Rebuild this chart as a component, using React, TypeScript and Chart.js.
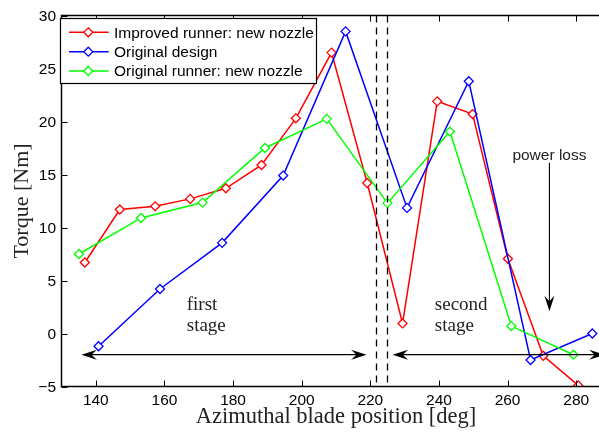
import React, { useEffect, useRef } from "react";
import { Chart, registerables } from "chart.js";

Chart.register(...registerables);

// ---- data ----
const improvedX = [136.8, 147.0, 157.3, 167.5, 177.9, 188.3, 198.3, 208.7, 219.1, 229.4, 239.5, 249.8, 260.1, 270.4, 280.6];
const improvedY = [6.7, 11.7, 12.0, 12.7, 13.7, 15.9, 20.3, 26.5, 14.2, 0.95, 21.9, 20.7, 7.05, -2.1, -4.9];
const originalX = [140.8, 158.7, 176.8, 194.6, 212.8, 230.7, 248.7, 266.7, 284.7];
const originalY = [-1.2, 4.2, 8.55, 14.9, 28.5, 11.85, 23.8, -2.5, 0.0];
const runnerX = [135.1, 153.2, 171.1, 189.3, 207.3, 225.0, 243.2, 261.1, 279.2];
const runnerY = [7.5, 10.9, 12.35, 17.5, 20.25, 12.3, 19.05, 0.7, -2.0];

const seriesNames = ["Improved runner: new nozzle", "Original design", "Original runner: new nozzle"];
const xTicks = [140, 160, 180, 200, 220, 240, 260, 280];
const yTicks = [-5, 0, 5, 10, 15, 20, 25, 30];
const xRange = [130, 290];
const yRange = [-5, 30];
const dividers = [221.8, 224.8];
const stageArrowY = -2;
const firstStageArrow = [135.8, 218.9];
const secondStageArrow = [226.5, 288.3];
const powerLossArrowX = 272.2;
const powerLossArrowY = [16.1, 2.1];
const stageLabels = [
  { lines: ["first", "stage"], x: 166.5, y: 0.24 },
  { lines: ["second", "stage"], x: 238.8, y: 0.24 },
];
const powerLossLabel = { text: "power loss", x: 272.2, y: 16.4 };

const colors = ["#ff0000", "#0000ff", "#00ff00"];
const SANS = "'Liberation Sans', Arial, sans-serif";
const SERIF = "'Liberation Serif', 'Times New Roman', serif";

const toPoints = (xs: number[], ys: number[]) => xs.map((x, i) => ({ x, y: ys[i] }));
const fmt = (v: number) => String(v).replace("-", "\u2212");

function arrowHead(ctx: CanvasRenderingContext2D, tx: number, ty: number, dx: number, dy: number) {
  const L = 15.5, W = 5, N = 10;
  const px = -dy, py = dx;
  ctx.beginPath();
  ctx.moveTo(tx, ty);
  ctx.lineTo(tx - dx * L + px * W, ty - dy * L + py * W);
  ctx.lineTo(tx - dx * N, ty - dy * N);
  ctx.lineTo(tx - dx * L - px * W, ty - dy * L - py * W);
  ctx.closePath();
  ctx.fill();
}

function diamond(ctx: CanvasRenderingContext2D, x: number, y: number, r: number) {
  ctx.beginPath();
  ctx.moveTo(x, y - r);
  ctx.lineTo(x + r, y);
  ctx.lineTo(x, y + r);
  ctx.lineTo(x - r, y);
  ctx.closePath();
  ctx.fillStyle = "#fff";
  ctx.fill();
  ctx.stroke();
}

const decor = {
  id: "decor",
  afterDatasetsDraw(chart: any) {
    const { ctx, chartArea: a } = chart;
    const x = chart.scales.x;
    const y = chart.scales.y;
    ctx.save();
    ctx.strokeStyle = "#000";
    ctx.fillStyle = "#000";

    // dashed dividers
    ctx.lineWidth = 1.3;
    ctx.setLineDash([7, 5]);
    dividers.forEach((v) => {
      const px = Math.round(x.getPixelForValue(v)) + 0.5;
      ctx.beginPath();
      ctx.moveTo(px, a.top);
      ctx.lineTo(px, a.bottom);
      ctx.stroke();
    });
    ctx.setLineDash([]);

    // stage arrows
    ctx.lineWidth = 1.3;
    const ay = y.getPixelForValue(stageArrowY);
    [firstStageArrow, secondStageArrow].forEach(([v1, v2]) => {
      const p1 = x.getPixelForValue(v1);
      const p2 = x.getPixelForValue(v2);
      ctx.beginPath();
      ctx.moveTo(p1 + 9, ay);
      ctx.lineTo(p2 - 9, ay);
      ctx.stroke();
      arrowHead(ctx, p1, ay, -1, 0);
      arrowHead(ctx, p2, ay, 1, 0);
    });

    // power loss arrow
    const plx = x.getPixelForValue(powerLossArrowX);
    const ply1 = y.getPixelForValue(powerLossArrowY[0]);
    const ply2 = y.getPixelForValue(powerLossArrowY[1]);
    ctx.lineWidth = 1.1;
    ctx.beginPath();
    ctx.moveTo(plx, ply1);
    ctx.lineTo(plx, ply2 - 9);
    ctx.stroke();
    arrowHead(ctx, plx, ply2, 0, 1);

    // texts
    ctx.font = `19px ${SERIF}`;
    ctx.fillStyle = "#222";
    ctx.textAlign = "left";
    ctx.textBaseline = "alphabetic";
    stageLabels.forEach((l) => {
      const px = x.getPixelForValue(l.x);
      const py = y.getPixelForValue(l.y);
      ctx.fillText(l.lines[0], px, py - 21);
      ctx.fillText(l.lines[1], px, py);
    });
    ctx.font = `15.5px ${SANS}`;
    ctx.textAlign = "center";
    ctx.fillText(powerLossLabel.text, x.getPixelForValue(powerLossLabel.x), y.getPixelForValue(powerLossLabel.y));

    // frame
    ctx.strokeStyle = "#000";
    ctx.lineWidth = 1.5;
    ctx.beginPath();
    ctx.moveTo(a.left, a.top);
    ctx.lineTo(a.right, a.top);
    ctx.lineTo(a.right, a.bottom);
    ctx.lineTo(a.left, a.bottom);
    ctx.closePath();
    ctx.stroke();
    ctx.lineWidth = 1;
    const T = 6;
    ctx.beginPath();
    xTicks.forEach((v) => {
      const px = Math.round(x.getPixelForValue(v)) + 0.5;
      ctx.moveTo(px, a.bottom);
      ctx.lineTo(px, a.bottom - T);
      ctx.moveTo(px, a.top);
      ctx.lineTo(px, a.top + T);
    });
    yTicks.forEach((v) => {
      const py = Math.round(y.getPixelForValue(v)) + 0.5;
      ctx.moveTo(a.left, py);
      ctx.lineTo(a.left + T, py);
      ctx.moveTo(a.right, py);
      ctx.lineTo(a.right - T, py);
    });
    ctx.stroke();

    // tick labels (from the scales)
    ctx.fillStyle = "#000";
    ctx.font = `15.5px ${SANS}`;
    ctx.textBaseline = "middle";
    ctx.textAlign = "center";
    xTicks.forEach((v) => ctx.fillText(fmt(v), x.getPixelForValue(v), a.bottom + 14));
    ctx.textAlign = "right";
    yTicks.forEach((v) => ctx.fillText(fmt(v), a.left - 5.5, y.getPixelForValue(v) + 1));

    // legend
    const L = a.left - 1, Tp = a.top + 3, R = 316.5, B = 83.5;
    ctx.fillStyle = "#fff";
    ctx.fillRect(L, Tp, R - L, B - Tp);
    ctx.strokeStyle = "#000";
    ctx.lineWidth = 1.2;
    ctx.strokeRect(L, Tp, R - L, B - Tp);
    const rows = [32.3, 51.7, 71];
    ctx.font = `15.5px ${SANS}`;
    ctx.textAlign = "left";
    ctx.textBaseline = "middle";
    seriesNames.forEach((name, i) => {
      const ry = rows[i];
      ctx.strokeStyle = colors[i];
      ctx.lineWidth = 1.5;
      ctx.beginPath();
      ctx.moveTo(69, ry);
      ctx.lineTo(108.7, ry);
      ctx.stroke();
      ctx.lineWidth = 1.3;
      diamond(ctx, 88.3, ry, 4.5);
      ctx.fillStyle = "#000";
      ctx.fillText(name, 114, ry + 1);
    });
    ctx.restore();
  },
};

export default function App() {
  const ref = useRef<HTMLCanvasElement | null>(null);
  useEffect(() => {
    if (!ref.current) return;
    const mk = (i: number, xs: number[], ys: number[]) => ({
      label: seriesNames[i],
      data: toPoints(xs, ys),
      borderColor: colors[i],
      backgroundColor: colors[i],
      borderWidth: 1.5,
      pointStyle: "rectRot" as const,
      pointRadius: 4.5,
      pointBorderWidth: 1.3,
      pointBackgroundColor: "#fff",
      pointBorderColor: colors[i],
      tension: 0,
      order: 2 - i,
    });
    const chart = new Chart(ref.current, {
      type: "line",
      data: {
        datasets: [mk(0, improvedX, improvedY), mk(1, originalX, originalY), mk(2, runnerX, runnerY)],
      },
      options: {
        responsive: false,
        animation: false,
        devicePixelRatio: 1,
        layout: { padding: { top: 15.5, right: 0.5, left: 0, bottom: 0 }, autoPadding: false },
        plugins: { legend: { display: false }, tooltip: { enabled: false }, title: { display: false } },
        scales: {
          x: {
            type: "linear",
            min: xRange[0],
            max: xRange[1],
            grid: { display: false, drawTicks: false, tickLength: 0 },
            border: { display: false },
            afterBuildTicks: (s: any) => { s.ticks = xTicks.map((v) => ({ value: v })); },
            afterFit: (s: any) => { s.height = 45.5; },
            ticks: { display: false },
            title: {
              display: true,
              text: "Azimuthal blade position [deg]",
              color: "#222",
              font: { family: SERIF, size: 22.5 },
              padding: { top: 0, bottom: 1 },
            },
          },
          y: {
            type: "linear",
            min: yRange[0],
            max: yRange[1],
            grid: { display: false, drawTicks: false, tickLength: 0 },
            border: { display: false },
            afterBuildTicks: (s: any) => { s.ticks = yTicks.map((v) => ({ value: v })); },
            afterFit: (s: any) => { s.width = 61.5; },
            ticks: { display: false },
            title: {
              display: true,
              text: "Torque [Nm]",
              color: "#222",
              font: { family: SERIF, size: 22 },
              padding: { top: 9, bottom: 0 },
            },
          },
        },
      },
      plugins: [decor],
    } as any);
    return () => chart.destroy();
  }, []);
  return (
    <div style={{ position: "absolute", left: 0, top: 0, width: 599, height: 432, overflow: "hidden", background: "#fff" }}>
      <canvas ref={ref} width={611} height={432} style={{ width: 611, height: 432, display: "block" }} />
    </div>
  );
}
